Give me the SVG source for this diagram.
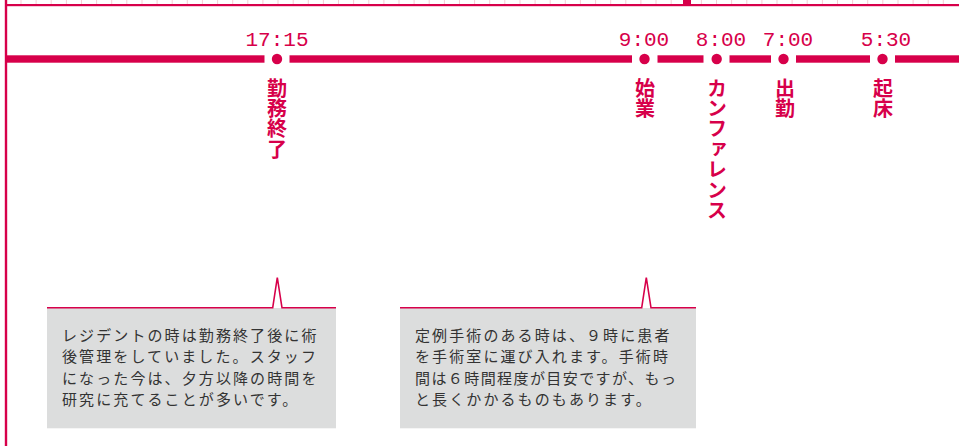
<svg xmlns="http://www.w3.org/2000/svg" width="959" height="446" viewBox="0 0 959 446">
<style>
.red{fill:#d7004a}
.tick{stroke:#f5cdd5;stroke-width:1}
.time{font-family:"Liberation Mono","DejaVu Sans Mono",monospace;font-size:21px;fill:#d7004a;text-anchor:middle}
.vlabel{font-family:"Noto Sans CJK JP",sans-serif;font-weight:bold;font-size:20px;fill:#d7004a;writing-mode:vertical-rl;letter-spacing:0.4px}
.dot{fill:#d7004a}
.gap{fill:#ffffff}
.box{fill:#dcdddd}
.pointer{fill:none;stroke:#d7004a;stroke-width:1.6;stroke-linejoin:miter}
.body{font-family:"Noto Sans CJK JP",sans-serif;font-size:15px;fill:#333333;letter-spacing:2.1px}
</style>
<rect width="959" height="446" fill="#ffffff"/>
<g id="ruler">
<g class="tick">
<path d="M21,0V4M36.1,0V4M51.2,0V4M66.4,0V4M81.5,0V4M96.6,0V4M111.7,0V4M126.8,0V4M142,0V4M157.1,0V4M172.2,0V4M187.3,0V4M202.4,0V4M217.6,0V4M232.7,0V4M247.8,0V4M262.9,0V4M278,0V4M293.2,0V4M308.3,0V4M323.4,0V4M338.5,0V4M353.6,0V4M368.8,0V4M383.9,0V4M399,0V4M414.1,0V4M429.2,0V4M444.4,0V4M459.5,0V4M474.6,0V4M489.7,0V4M504.8,0V4M520,0V4M535.1,0V4M550.2,0V4M565.3,0V4M580.4,0V4M595.6,0V4M610.7,0V4M625.8,0V4M640.9,0V4M656,0V4M671.2,0V4M701.4,0V4M716.5,0V4M731.6,0V4M746.8,0V4M761.9,0V4M777,0V4M792.1,0V4M807.2,0V4M822.4,0V4M837.5,0V4M852.6,0V4M867.7,0V4M882.8,0V4M898,0V4M913.1,0V4M928.2,0V4M943.3,0V4"/>
</g>
<rect class="red" x="683" y="0" width="8" height="5"/>
<rect class="red" x="5" y="4" width="954" height="2.2"/>
<rect class="red" x="4.8" y="0" width="2.4" height="446"/>
</g>
<g id="connectors">
<rect class="red" x="6" y="55.3" width="953" height="7.4"/>
<rect class="gap" x="264.5" y="54" width="25" height="10"/>
<rect class="gap" x="632" y="54" width="25.5" height="10"/>
<rect class="gap" x="703.5" y="54" width="26" height="10"/>
<rect class="gap" x="771" y="54" width="25" height="10"/>
<rect class="gap" x="870" y="54" width="25" height="10"/>
</g>
<g id="node-1715">
<text class="time" x="277" y="46">17:15</text>
<circle class="dot" cx="277" cy="59" r="5.2"/>
<text class="vlabel" x="277" y="78">勤務終了</text>
</g>
<g id="node-0900">
<text class="time" x="644" y="46">9:00</text>
<circle class="dot" cx="644.5" cy="59" r="5.2"/>
<text class="vlabel" x="645" y="78">始業</text>
</g>
<g id="node-0800">
<text class="time" x="721" y="46">8:00</text>
<circle class="dot" cx="716.7" cy="59" r="5.2"/>
<text class="vlabel" x="717" y="78">カンファレンス</text>
</g>
<g id="node-0700">
<text class="time" x="788" y="46">7:00</text>
<circle class="dot" cx="783.5" cy="59" r="5.2"/>
<text class="vlabel" x="785" y="78">出勤</text>
</g>
<g id="node-0530">
<text class="time" x="886" y="46">5:30</text>
<circle class="dot" cx="882.5" cy="59" r="5.2"/>
<text class="vlabel" x="883" y="78">起床</text>
</g>
<g id="callout-1">
<rect class="box" x="47" y="308" width="289" height="120.3"/>
<polyline class="pointer" points="47,307.8 272.7,307.8 277.3,277.5 282,307.8 336,307.8"/>
<text class="body" x="62" y="341">レジデントの時は勤務終了後に術</text>
<text class="body" x="62" y="362.3">後管理をしていました。スタッフ</text>
<text class="body" x="62" y="383.6">になった今は、夕方以降の時間を</text>
<text class="body" x="62" y="405">研究に充てることが多いです。</text>
</g>
<g id="callout-2">
<rect class="box" x="400" y="308" width="296" height="120.3"/>
<polyline class="pointer" points="400,307.8 641.7,307.8 646.3,277.5 651,307.8 696,307.8"/>
<text class="body" x="415" y="341">定例手術のある時は、９時に患者</text>
<text class="body" x="415" y="362.3">を手術室に運び入れます。手術時</text>
<text class="body" x="415" y="383.6" textLength="263" lengthAdjust="spacing">間は６時間程度が目安ですが、もっ</text>
<text class="body" x="415" y="405">と長くかかるものもあります。</text>
</g>
</svg>
